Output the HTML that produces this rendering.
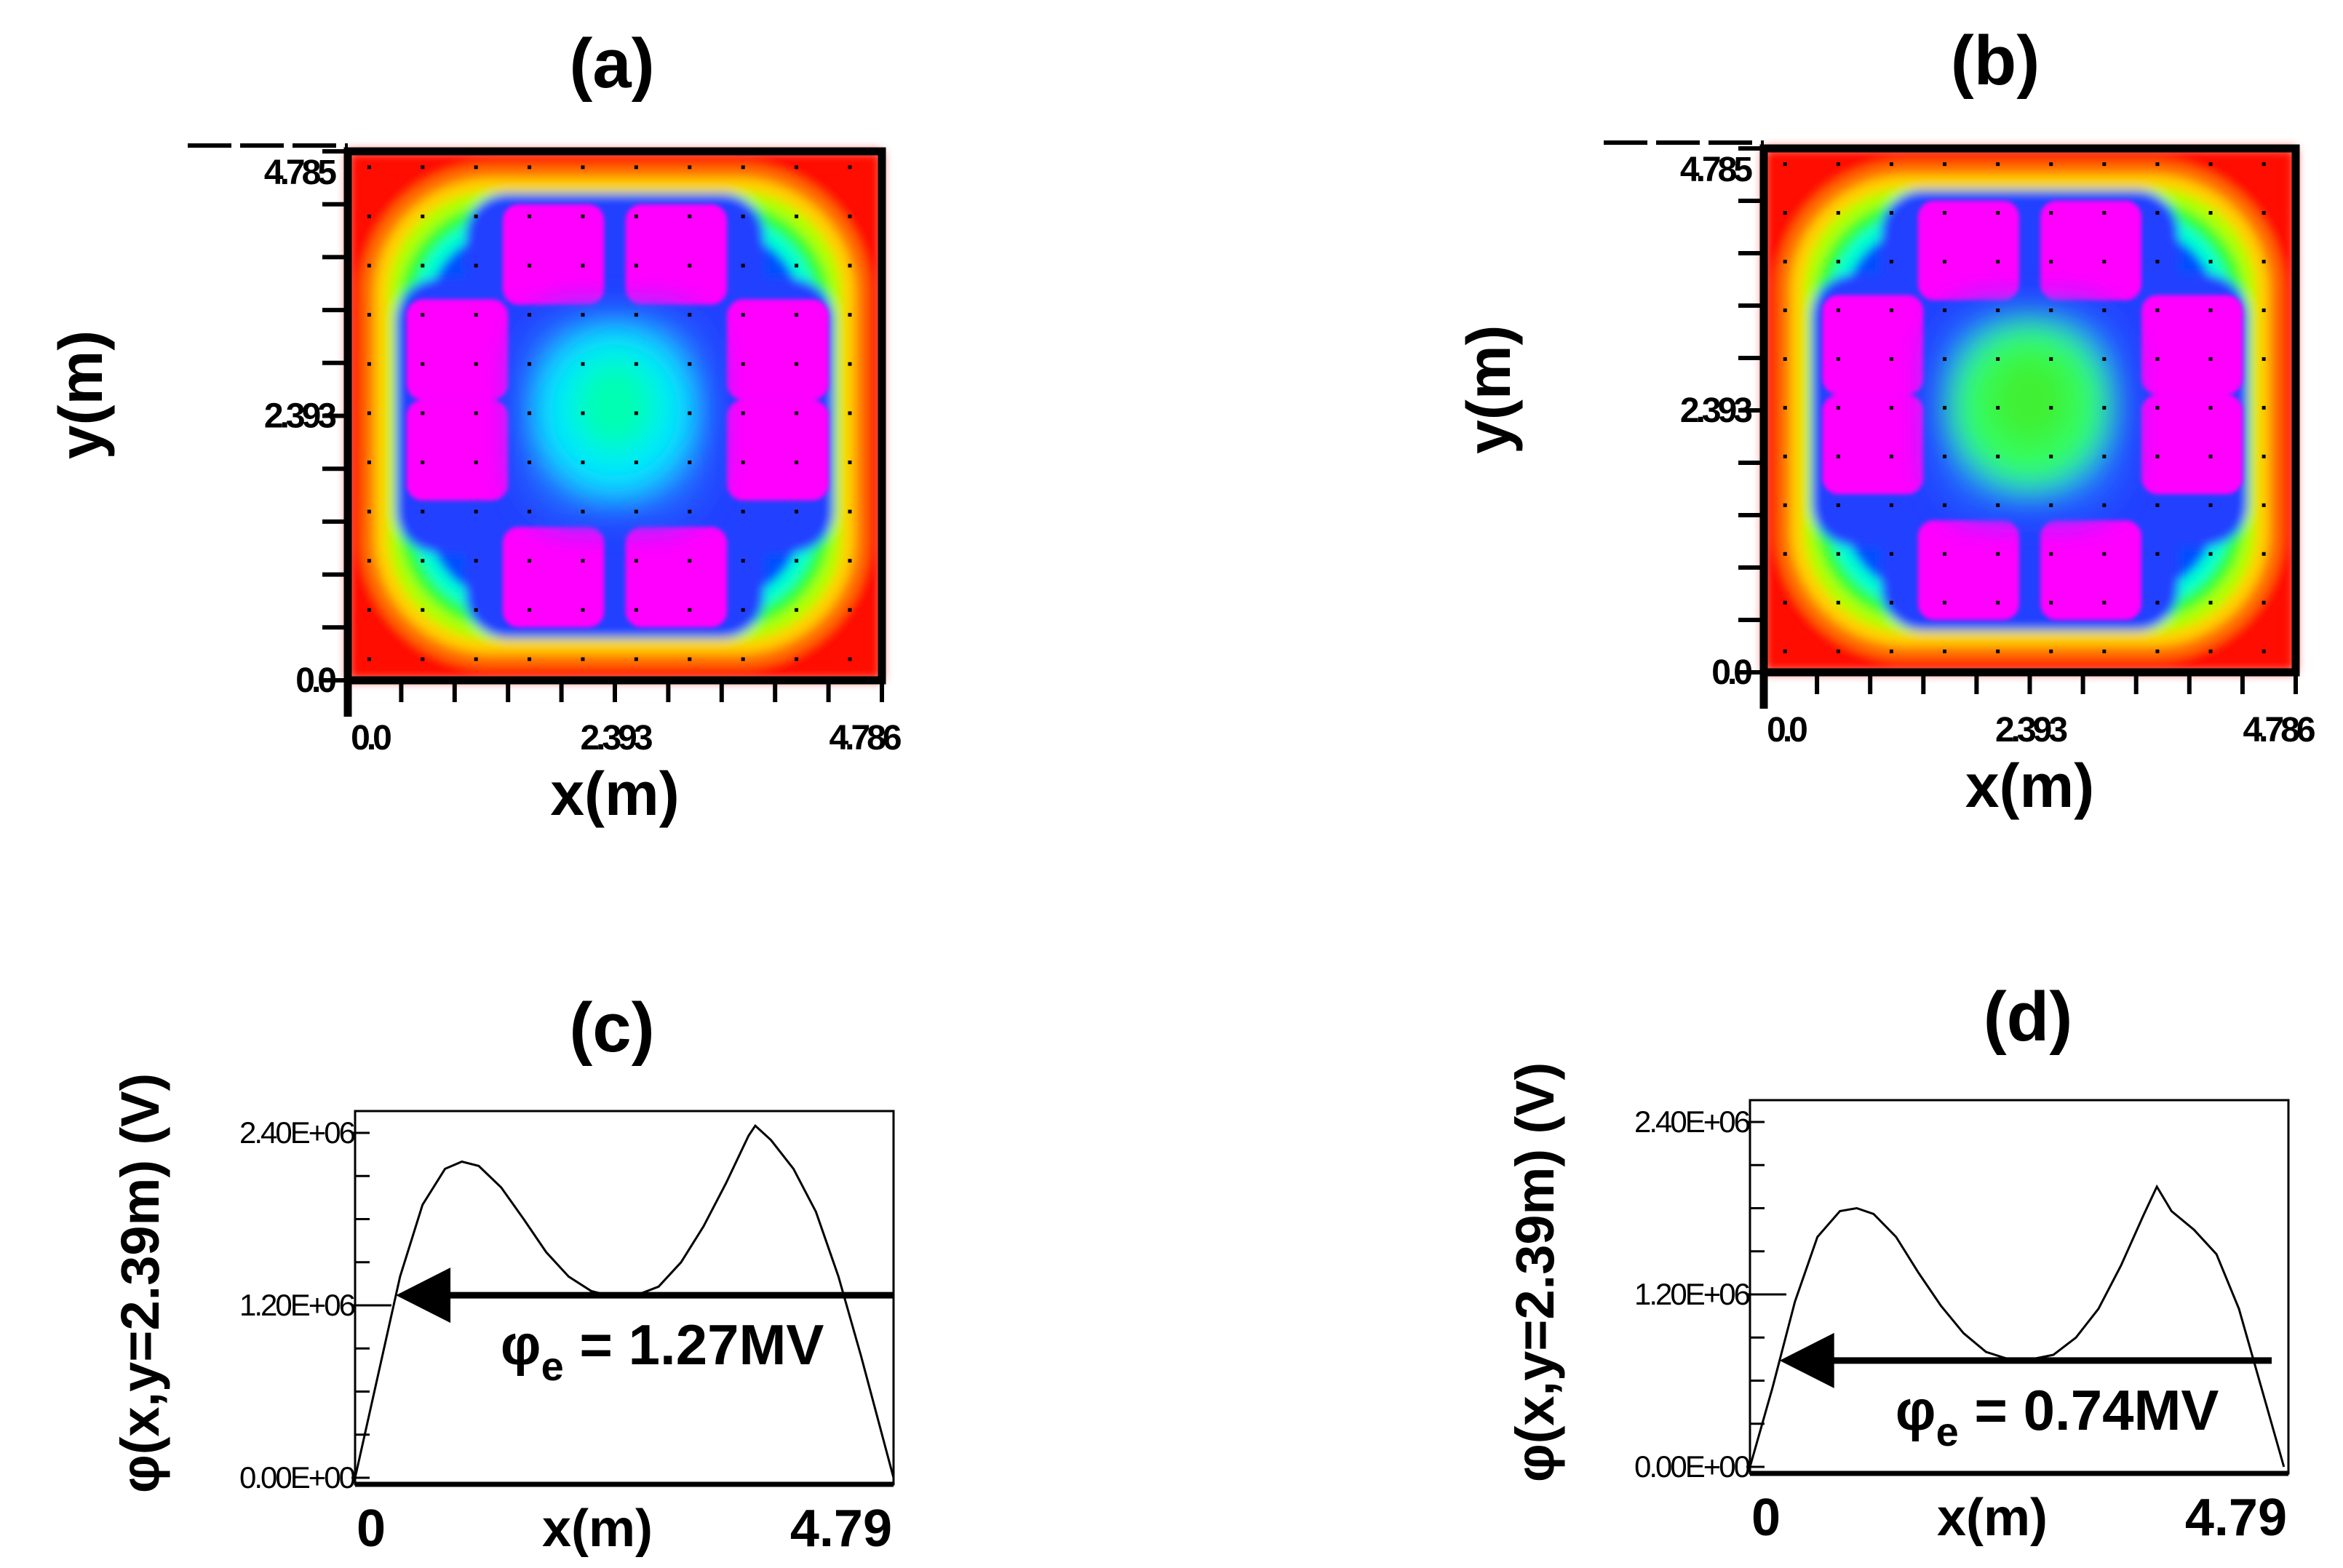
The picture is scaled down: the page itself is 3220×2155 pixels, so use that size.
<!DOCTYPE html>
<html><head><meta charset="utf-8">
<style>
html,body{margin:0;padding:0;background:#fff;}
svg{display:block;}
text{font-family:"Liberation Sans",sans-serif;}
</style></head>
<body>
<svg id="fig" width="3220" height="2155" viewBox="0 0 3220 2155" xmlns="http://www.w3.org/2000/svg">
<defs>
<filter id="blur" x="-10%" y="-10%" width="120%" height="120%"><feGaussianBlur stdDeviation="7"/></filter>
<filter id="blur2" x="-10%" y="-10%" width="120%" height="120%"><feGaussianBlur stdDeviation="3"/></filter>
<filter id="blur3" x="-30%" y="-30%" width="160%" height="160%"><feGaussianBlur stdDeviation="22"/></filter>
</defs>
<g id="heatA"></g>
<g id="heatB"></g>
<g id="lineC"></g>
<g id="lineD"></g>
</svg>
<script>
// ---- line chart data ----
const xC = [0,0.2,0.4,0.6,0.8,0.95,1.1,1.3,1.5,1.7,1.9,2.1,2.3,2.5,2.7,2.9,3.1,3.3,3.5,3.56,3.7,3.9,4.1,4.3,4.5,4.79];
const valsC = [0,0.7,1.4,1.9,2.15,2.2,2.17,2.02,1.8,1.57,1.4,1.3,1.26,1.27,1.33,1.5,1.75,2.05,2.38,2.45,2.35,2.15,1.85,1.4,0.85,0];
const xD = [0,0.2,0.4,0.6,0.8,0.95,1.1,1.3,1.5,1.7,1.9,2.1,2.3,2.45,2.7,2.9,3.1,3.3,3.5,3.62,3.75,3.95,4.15,4.35,4.55,4.75];
const valsD = [0,0.55,1.15,1.6,1.78,1.8,1.76,1.6,1.35,1.12,0.93,0.8,0.75,0.74,0.78,0.9,1.1,1.4,1.75,1.95,1.78,1.65,1.48,1.1,0.55,0];
const phiC = [1.27];
const phiD = [0.74];
const yTickLabels = ["0.00E+00","1.20E+06","2.40E+06"];
const yTickVals = [0,1.2,2.4];
const xTickLabelsLine = ["0","4.79"];
const xTickLabelsHeat = ["0.0","2.393","4.786"];
const yTickLabelsHeat = ["0.0","2.393","4.785"];

const NS="http://www.w3.org/2000/svg";
function mk(parent,tag,attrs,txt){const e=document.createElementNS(NS,tag);for(const k in attrs)e.setAttribute(k,attrs[k]);if(txt!==undefined)e.textContent=txt;parent.appendChild(e);return e;}

function heat(g,L,T,R,B,title,tx,ylx,center1,center2){
  const W=R-L,H=B-T;
  const fx=f=>L+W*f/100, fy=f=>T+H*f/100;
  const t=mk(g,'text',{x:tx,y:T-88,'font-size':96,'font-weight':'bold','text-anchor':'middle'},title);
  
  
  const layers=[[0,'#ff1000',0],[2.5,'#ff7000',24],[5,'#ffd000',22],[7.5,'#b0ff00',20],[9.5,'#30ff30',20],[12,'#00ffd0',18],[15,'#0050ff',15]];
  const lg=mk(g,'g',{filter:'url(#blur)'});
  layers.forEach(l=>{
    mk(lg,'rect',{x:fx(l[0]),y:fy(l[0]),width:W*(100-2*l[0])/100,height:H*(100-2*l[0])/100,rx:W*l[2]/100,fill:l[1]});
  });
  mk(lg,'rect',{x:fx(22),y:fy(8),width:W*0.56,height:H*0.84,rx:W*0.08,fill:'#2040ff'});
  mk(lg,'rect',{x:fx(9),y:fy(24),width:W*0.82,height:H*0.52,rx:W*0.08,fill:'#2040ff'});
  const sq=[[29,10],[52,10],[11,28],[11,47],[71,28],[71,47],[29,71],[52,71]];
  const sg=mk(g,'g',{filter:'url(#blur2)'});
  sq.forEach(s=>{
    const r=mk(sg,'rect',{x:fx(s[0]),y:fy(s[1]),width:W*0.19,height:H*0.19,rx:W*0.03,fill:'#ff00ff'});
    
    
  });
  const cg=mk(g,'g',{filter:'url(#blur3)'});
  mk(cg,'rect',{x:fx(32),y:fy(30),width:W*0.36,height:H*0.4,rx:W*0.1,fill:'#2060ff'});
  mk(cg,'ellipse',{cx:fx(50),cy:fy(49),rx:W*0.15,ry:H*0.16,fill:center1});
  mk(cg,'ellipse',{cx:fx(50),cy:fy(48),rx:W*0.08,ry:H*0.09,fill:center2});
  for(let i=0;i<10;i++)for(let j=0;j<11;j++){
    mk(g,'rect',{x:fx(4+i*10)-2.5,y:fy(3+j*9.3)-2.5,width:5,height:5,fill:'#000'});
  }
  const fr=mk(g,'rect',{x:L,y:T,width:W,height:H,fill:'none',stroke:'#000','stroke-width':11});
  
  
  mk(g,'line',{x1:L-220,y1:T-8,x2:L,y2:T-8,stroke:'#000','stroke-width':6,'stroke-dasharray':'60,12'});
  for(let i=0;i<=10;i++){mk(g,'line',{x1:L-35,y1:T+H*i/10,x2:L,y2:T+H*i/10,stroke:'#000','stroke-width':6});}
  mk(g,'line',{x1:L,y1:B,x2:L,y2:B+50,stroke:'#000','stroke-width':11});
  for(let i=0;i<=10;i++){mk(g,'line',{x1:L+W*i/10,y1:B,x2:L+W*i/10,y2:B+30,stroke:'#000','stroke-width':6});}
  yTickLabelsHeat.forEach((s,i)=>{
    const e=mk(g,'text',{x:L-20,y:B-H*i/2+(i==2?45:16),'font-size':48,'font-weight':'bold','text-anchor':'end','letter-spacing':'-5'},s);
    
    
  });
  xTickLabelsHeat.forEach((s,i)=>{
    const e=mk(g,'text',{x:L+W*i/2+(i==0?30:(i==2?-25:0)),y:B+95,'font-size':48,'font-weight':'bold','text-anchor':'middle','letter-spacing':'-5'},s);
    
    
  });
  const xt=mk(g,'text',{x:L+W/2,y:B+185,'font-size':84,'font-weight':'bold','text-anchor':'middle'},'x(m)');
  
  
  const yt=mk(g,'text',{x:0,y:0,'font-size':84,'font-weight':'bold','text-anchor':'middle',transform:`translate(${ylx},${T+H*0.46}) rotate(-90)`},'y(m)');
  
  
}

function lineChart(g,L,T,R,B,y0px,y24px,xs,vals,phi,title,tx,ytx,lblx){
  const W=R-L;
  const sx=v=>L+W*v/4.79;
  const sy=v=>y0px+(y24px-y0px)*v/2.4;
  const t=mk(g,'text',{x:tx,y:T-82,'font-size':96,'font-weight':'bold','text-anchor':'middle'},title);
  
  
  const fr=mk(g,'rect',{x:L,y:T,width:W,height:B-T,fill:'none',stroke:'#000','stroke-width':3});
  
  
  mk(g,'line',{x1:L,y1:B,x2:R,y2:B,stroke:'#000','stroke-width':7});
  for(let i=0;i<=8;i++){const y=sy(i*0.3);mk(g,'line',{x1:L,y1:y,x2:L+20,y2:y,stroke:'#000','stroke-width':3});}
  yTickVals.forEach((v,i)=>{
    mk(g,'line',{x1:L-5,y1:sy(v),x2:L+(i==1?50:20),y2:sy(v),stroke:'#000','stroke-width':3});
    const e=mk(g,'text',{x:L-2,y:sy(v)+14,'font-size':42,'text-anchor':'end','letter-spacing':'-3'},yTickLabels[i]);
    
    
  });
  const l0=mk(g,'text',{x:L+22,y:B+85,'font-size':72,'font-weight':'bold','text-anchor':'middle'},xTickLabelsLine[0]);
  
  
  const l1=mk(g,'text',{x:R-2,y:B+85,'font-size':72,'font-weight':'bold','text-anchor':'end'},xTickLabelsLine[1]);
  
  
  const xt=mk(g,'text',{x:L+W*0.45,y:B+85,'font-size':72,'font-weight':'bold','text-anchor':'middle'},'x(m)');
  
  
  const yt=mk(g,'text',{x:0,y:0,'font-size':74,'font-weight':'bold','text-anchor':'middle',transform:`translate(${ytx},${(T+B)/2-20}) rotate(-90)`},'φ(x,y=2.39m) (V)');
  
  
  const d=xs.map((x,i)=>(i?'L':'M')+sx(x).toFixed(1)+','+sy(vals[i]).toFixed(1)).join(' ');
  const p=mk(g,'path',{d:d,fill:'none',stroke:'#000','stroke-width':3});
  
  
  const py=sy(phi[0]);
  let xc=xs[0];
  for(let i=1;i<vals.length;i++){if(vals[i]>=phi[0]){xc=xs[i-1]+(xs[i]-xs[i-1])*(phi[0]-vals[i-1])/(vals[i]-vals[i-1]);break;}}
  const ax=sx(xc);
  const ar=mk(g,'line',{x1:ax+70,y1:py,x2:lblx,y2:py,stroke:'#000','stroke-width':9});
  
  
  mk(g,'polygon',{points:`${ax},${py} ${ax+75},${py-38} ${ax+75},${py+38}`,fill:'#000'});
  const lab=mk(g,'text',{x:L+W*0.27,y:py+95,'font-size':78,'font-weight':'bold'});
  
  
  mk(lab,'tspan',{},'φ');
  mk(lab,'tspan',{dy:22,'font-size':56},'e');
  mk(lab,'tspan',{dy:-22},' = '+phi[0].toFixed(2)+'MV');
}

heat(document.getElementById('heatA'),478,208,1212,935,'(a)',841,140,'#00e8ff','#00ffb0');
heat(document.getElementById('heatB'),2424,204,3155,924,'(b)',2742,2075,'#30ff60','#40f030');
lineChart(document.getElementById('lineC'),488,1527,1228,2040,2031,1557,xC,valsC,phiC,'(c)',841,218,1228);
lineChart(document.getElementById('lineD'),2405,1512,3145,2025,2016,1542,xD,valsD,phiD,'(d)',2787,2135,3122);
</script>
</body></html>
